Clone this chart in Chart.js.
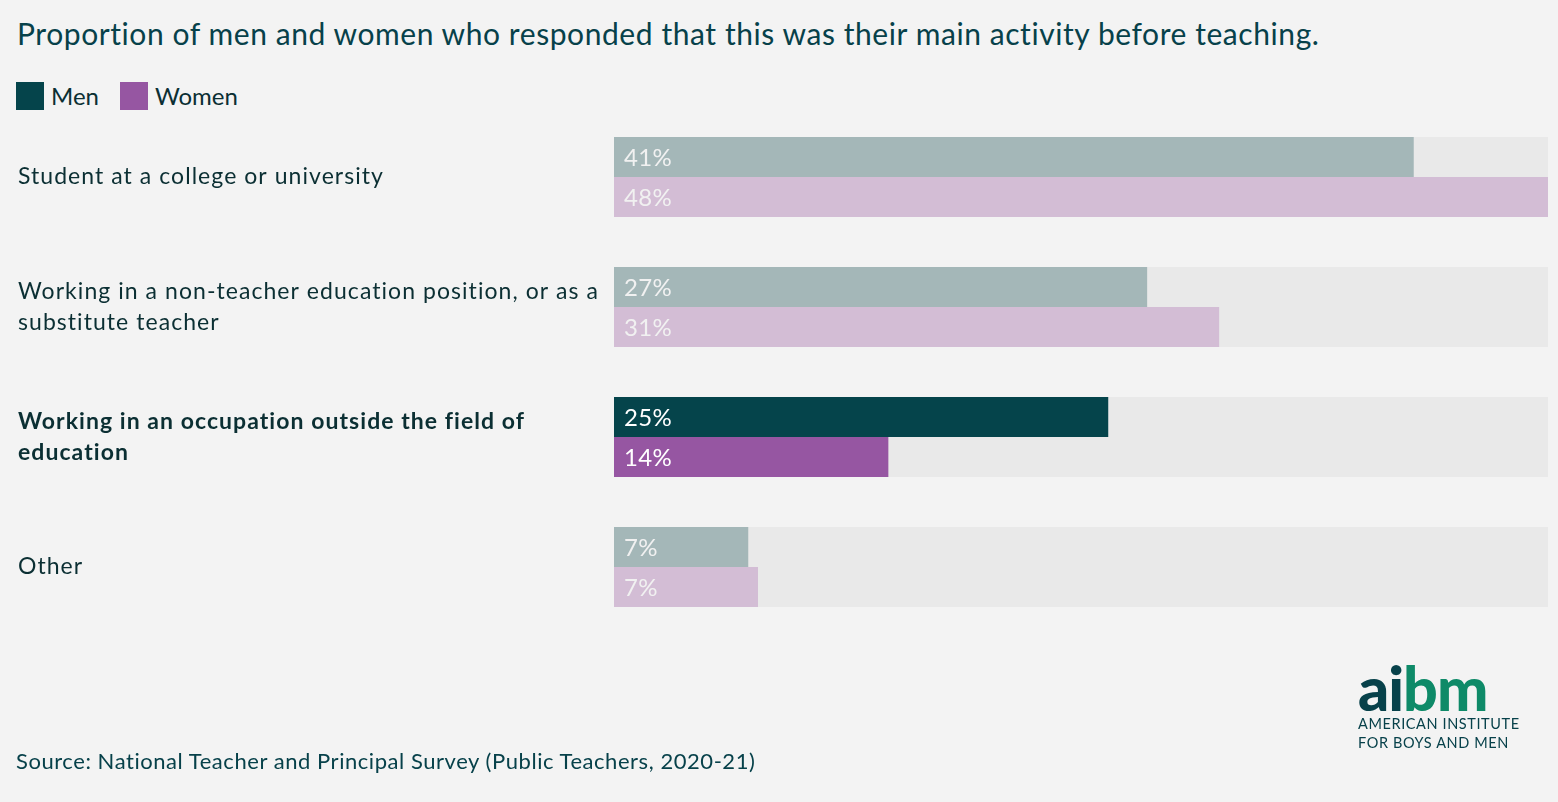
<!DOCTYPE html>
<html>
<head>
<meta charset="utf-8">
<script src="https://cdn.jsdelivr.net/npm/chart.js@4.4.0/dist/chart.umd.min.js"></script>
<style>
    html, body { margin: 0; padding: 0; background: #f3f3f3; }
    body { width: 1558px; height: 802px; position: relative; overflow: hidden; font-family: Lato, "Noto Sans", sans-serif; color: #07414a; }
    #title { position: absolute; left: 17px; top: 15px; font-size: 30px; letter-spacing: 0.57px; white-space: nowrap; }
    #legend { position: absolute; left: 16px; top: 81px; font-size: 24px; display: flex; align-items: center; color: #0b2f33; }
    #legend .sw { width: 28px; height: 28px; display: inline-block; margin-right: 7px; }
    #legend .item { display: flex; align-items: center; margin-right: 21px; }
    #source { position: absolute; left: 16px; top: 747px; font-size: 22px; letter-spacing: 0.55px; white-space: nowrap; }
    #logo { position: absolute; left: 1358px; top: 662px; color: #07414a; }
    #logo .mark { font-size: 61px; font-weight: 900; letter-spacing: -1px; line-height: 52px; }
    #logo .mark .g { color: #0e8a68; }
    #logo .sub { font-size: 14.5px; letter-spacing: 0.6px; line-height: 19px; }
    #chartWrap { position: absolute; left: 0; top: 0; width: 1558px; height: 802px; }
</style>
</head>
<body>
<div id="title">Proportion of men and women who responded that this was their main activity before teaching.</div>
<div id="legend">
    <span class="item"><span class="sw" style="background:#05444b"></span>Men</span>
    <span class="item"><span class="sw" style="background:#9656a2"></span>Women</span>
</div>
<div id="chartWrap"><canvas id="barChart"></canvas></div>
<div id="source">Source: National Teacher and Principal Survey (Public Teachers, 2020-21)</div>
<div id="logo">
    <div class="mark">ai<span class="g">bm</span></div>
    <div class="sub">AMERICAN INSTITUTE<br>FOR BOYS AND MEN</div>
</div>
<script>
// Categories and values
const categories = [
    ['Student at a college or university'],
    ['Working in a non-teacher education position, or as a', 'substitute teacher'],
    ['Working in an occupation outside the field of', 'education'],
    ['Other']
];
const menValues = [41.1, 27.4, 25.4, 6.9];
const womenValues = [48.0, 31.1, 14.1, 7.4];
const highlighted = [false, false, true, false];
const axisMax = 48;

const MEN = '#05444b', MEN_FADED = '#a4b7b8';
const WOMEN = '#9656a2', WOMEN_FADED = '#d3bdd5';
const TRACK = '#e9e9e9';

// grey track behind each pair of bars
const trackPlugin = {
    id: 'tracks',
    beforeDatasetsDraw(chart) {
        const ctx = chart.ctx;
        const x = chart.scales.x;
        const m0 = chart.getDatasetMeta(0).data;
        const m1 = chart.getDatasetMeta(1).data;
        ctx.save();
        ctx.fillStyle = TRACK;
        m0.forEach((bar, i) => {
            const top = bar.y - bar.height / 2;
            const bottom = m1[i].y + m1[i].height / 2;
            ctx.fillRect(x.getPixelForValue(0), top, x.getPixelForValue(axisMax) - x.getPixelForValue(0), bottom - top);
        });
        ctx.restore();
    }
};

// wider spacing for the category labels (the original font runs wider than Lato)
const spacingPlugin = {
    id: 'tickSpacing',
    beforeDraw(chart) { chart.ctx.letterSpacing = '1.05px'; },
    beforeDatasetsDraw(chart) { chart.ctx.letterSpacing = '0px'; }
};

// percent text inside the bars
const valueLabelPlugin = {
    id: 'valueLabels',
    afterDatasetsDraw(chart) {
        const ctx = chart.ctx;
        ctx.save();
        ctx.font = '24px Lato, "Noto Sans", sans-serif';
        ctx.letterSpacing = '0.3px';
        ctx.textBaseline = 'middle';
        chart.data.datasets.forEach((ds, di) => {
            chart.getDatasetMeta(di).data.forEach((bar, i) => {
                ctx.fillStyle = highlighted[i] ? '#ffffff' : '#f1f1f1';
                ctx.fillText(Math.round(ds.data[i]) + '%', bar.base + 10, bar.y + 1);
            });
        });
        ctx.restore();
    }
};

new Chart(document.getElementById('barChart'), {
    type: 'bar',
    data: {
        labels: categories,
        datasets: [{
            label: 'Men',
            data: menValues,
            backgroundColor: menValues.map((v, i) => highlighted[i] ? MEN : MEN_FADED),
            borderWidth: 0,
            barPercentage: 1,
            categoryPercentage: 80 / 130
        }, {
            label: 'Women',
            data: womenValues,
            backgroundColor: womenValues.map((v, i) => highlighted[i] ? WOMEN : WOMEN_FADED),
            borderWidth: 0,
            barPercentage: 1,
            categoryPercentage: 80 / 130
        }]
    },
    options: {
        indexAxis: 'y',
        responsive: true,
        maintainAspectRatio: false,
        animation: false,
        layout: { padding: { left: 18, right: 10, top: 112, bottom: 170 } },
        plugins: {
            legend: { display: false },
            tooltip: { enabled: false }
        },
        scales: {
            x: {
                display: false,
                min: 0,
                max: axisMax
            },
            y: {
                grid: { display: false, drawTicks: false },
                border: { display: false },
                afterFit: (scale) => { scale.width = 596; },
                ticks: {
                    crossAlign: 'far',
                    padding: 0,
                    color: '#0b2f33',
                    font: (c) => ({
                        family: 'Lato, "Noto Sans", sans-serif',
                        size: 23,
                        weight: highlighted[c.index] ? 'bold' : 'normal',
                        lineHeight: 1.33
                    })
                }
            }
        }
    },
    plugins: [spacingPlugin, trackPlugin, valueLabelPlugin]
});
</script>
</body>
</html>
